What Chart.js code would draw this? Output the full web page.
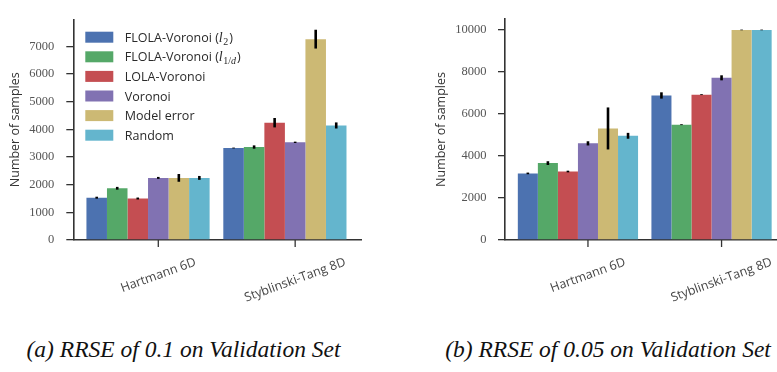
<!DOCTYPE html>
<html><head><meta charset="utf-8">
<script src="https://cdn.jsdelivr.net/npm/chart.js@4.4.1/dist/chart.umd.min.js"></script>
<style>
html,body{margin:0;padding:0;background:#fff;}
#wrap{position:relative;width:777px;height:372px;overflow:hidden;background:#fff;}
canvas{position:absolute;top:0;}
.cap{position:absolute;font-family:'Liberation Serif','Times New Roman',Times,serif;font-style:italic;font-size:23.5px;color:#111;text-align:center;white-space:nowrap;line-height:24px;}
</style></head><body>
<div id="wrap">
<canvas id="cA" width="390" height="320" style="left:0"></canvas>
<canvas id="cB" width="387" height="320" style="left:390px"></canvas>
<div class="cap" style="left:0;width:367px;top:337px">(a) RRSE of 0.1 on Validation Set</div>
<div class="cap" style="left:443px;width:330px;top:337px">(b) RRSE of 0.05 on Validation Set</div>
</div>
<script>
// ---------- data ----------
const categories = ['Hartmann 6D', 'Styblinski-Tang 8D'];
const seriesNames = ['FLOLA-Voronoi ($l_2$)', 'FLOLA-Voronoi ($l_{1/d}$)', 'LOLA-Voronoi', 'Voronoi', 'Model error', 'Random'];
const seriesColors = ['#4C72B0', '#55A868', '#C44E52', '#8172B2', '#CCB974', '#64B5CD'];

// (a) RRSE of 0.1 — mean number of samples, per category, in series order
const meansA_Hartmann   = [1530, 1870, 1500, 2245, 2245, 2245];
const meansA_Styblinski = [3325, 3360, 4240, 3530, 7260, 4140];
const errA_Hartmann     = [35, 50, 35, 35, 140, 70];
const errA_Styblinski   = [15, 60, 170, 25, 340, 110];

// (b) RRSE of 0.05
const meansB_Hartmann   = [3170, 3660, 3260, 4600, 5310, 4960];
const meansB_Styblinski = [6880, 5490, 6920, 7720, 10000, 10000];
const errB_Hartmann     = [40, 90, 40, 100, 1000, 140];
const errB_Styblinski   = [150, 20, 20, 120, 15, 15];

const yTicksA = [0, 1000, 2000, 3000, 4000, 5000, 6000, 7000];
const yTicksB = [0, 2000, 4000, 6000, 8000, 10000];

// ---------- helpers ----------
function plainName(n) {
  return n.replace(/\$l_\{?([^}$]*)\}?\$/g, 'l$1');
}
function buildDatasets(meansByCat, errsByCat) {
  return seriesNames.map((name, s) => ({
    label: plainName(name),
    data: categories.map((c, i) => ({ x: i, y: meansByCat[i][s] })),
    errors: categories.map((c, i) => errsByCat[i][s]),
    backgroundColor: seriesColors[s],
    borderWidth: 0
  }));
}

const errorBarPlugin = {
  id: 'errorBars',
  afterDatasetsDraw(chart) {
    const ctx = chart.ctx, ys = chart.scales.y;
    ctx.save();
    ctx.strokeStyle = '#000';
    ctx.lineWidth = 2.6;
    chart.data.datasets.forEach((ds, di) => {
      const meta = chart.getDatasetMeta(di);
      meta.data.forEach((el, i) => {
        const v = ds.data[i].y, e = ds.errors[i];
        ctx.beginPath();
        ctx.moveTo(el.x, ys.getPixelForValue(v - e));
        ctx.lineTo(el.x, ys.getPixelForValue(v + e));
        ctx.stroke();
      });
    });
    ctx.restore();
  }
};

const catAxisPlugin = {
  id: 'catAxis',
  afterDraw(chart) {
    const ctx = chart.ctx, area = chart.chartArea;
    const meta = chart.getDatasetMeta(3);
    const ang = 20 * Math.PI / 180;
    ctx.save();
    ctx.strokeStyle = '#333';
    ctx.lineWidth = 1.3;
    ctx.font = '12.5px "Open Sans"';
    ctx.fillStyle = '#444';
    categories.forEach((label, i) => {
      const x = meta.data[i].x;
      ctx.beginPath();
      ctx.moveTo(x, area.bottom);
      ctx.lineTo(x, area.bottom + 7);
      ctx.stroke();
      const w = ctx.measureText(label).width, h = 12.5;
      const bh = w * Math.sin(ang) + h * Math.cos(ang);
      const cy = area.bottom + 16 + bh / 2;
      ctx.save();
      ctx.translate(x, cy);
      ctx.rotate(-ang);
      ctx.textAlign = 'center';
      ctx.textBaseline = 'middle';
      ctx.fillText(label, 0, 0);
      ctx.restore();
    });
    ctx.restore();
  }
};

function drawRich(ctx, text, x, y) {
  const parts = text.split('$');
  parts.forEach((p, k) => {
    if (k % 2 === 0) {
      ctx.font = '12.5px "Open Sans"';
      ctx.fillText(p, x, y);
      x += ctx.measureText(p).width;
    } else {
      const m = p.match(/^(\w)_\{?([^}]*)\}?$/);
      const base = m ? m[1] : p, sub = m ? m[2] : '';
      ctx.font = 'italic 14px "Liberation Serif"';
      ctx.fillText(base, x, y);
      x += ctx.measureText(base).width + 0.5;
      for (const ch of sub) {
        ctx.font = (/[a-z]/.test(ch) ? 'italic ' : '') + '10px "Liberation Serif"';
        ctx.fillText(ch, x, y + 3);
        x += ctx.measureText(ch).width;
      }
      x += 1;
    }
  });
}

const legendPlugin = {
  id: 'mplLegend',
  afterDraw(chart) {
    const ctx = chart.ctx, area = chart.chartArea;
    ctx.save();
    ctx.textAlign = 'left';
    ctx.textBaseline = 'alphabetic';
    seriesNames.forEach((name, i) => {
      const cy = area.top + 17.7 + 19.6 * i;
      const bx = area.left + 12;
      ctx.fillStyle = seriesColors[i];
      ctx.fillRect(bx, cy - 5.5, 28, 11);
      ctx.fillStyle = '#2a2a2a';
      drawRich(ctx, name, bx + 39.5, cy + 4.5);
    });
    ctx.restore();
  }
};

function makeChart(id, datasets, cfg, extraPlugins) {
  return new Chart(document.getElementById(id), {
    type: 'bar',
    data: { datasets },
    options: {
      responsive: false,
      animation: false,
      devicePixelRatio: 1,
      events: [],
      layout: { padding: cfg.padding },
      datasets: { bar: { categoryPercentage: 0.9, barPercentage: 1.0 } },
      plugins: { legend: { display: false }, tooltip: { enabled: false } },
      scales: {
        x: {
          type: 'linear',
          min: -0.546,
          max: cfg.xMax,
          offset: false,
          afterBuildTicks: s => { s.ticks = categories.map((c, i) => ({ value: i })); },
          ticks: { display: false },
          grid: { display: false },
          border: { display: true, color: '#333', width: 1.6 },
          afterFit: s => { s.height = 80; }
        },
        y: {
          min: 0,
          max: cfg.yMax,
          afterBuildTicks: s => { s.ticks = cfg.yTicks.map(v => ({ value: v })); },
          ticks: {
            font: { family: 'Liberation Serif', size: 12.5 },
            color: '#555',
            padding: cfg.tickPad,
            callback: v => String(v)
          },
          grid: { display: true, drawOnChartArea: false, drawTicks: true, tickLength: 7, color: '#333', lineWidth: 1.3 },
          border: { display: true, color: '#333', width: 1.6 },
          title: {
            display: true,
            text: 'Number of samples',
            font: { family: 'Open Sans', size: 12.5 },
            color: '#333',
            padding: { top: cfg.titlePad, bottom: 0 }
          },
          afterFit: s => { s.width = cfg.yWidth; }
        }
      }
    },
    plugins: [errorBarPlugin, catAxisPlugin].concat(extraPlugins)
  });
}

makeChart('cA',
  buildDatasets([meansA_Hartmann, meansA_Styblinski], [errA_Hartmann, errA_Styblinski]),
  { padding: { top: 5, right: 29, left: 0, bottom: 0 }, xMax: 1.556, yMax: 7970, yTicks: yTicksA, yWidth: 73.3, tickPad: 12, titlePad: 7.5 },
  [legendPlugin]);

makeChart('cB',
  buildDatasets([meansB_Hartmann, meansB_Styblinski], [errB_Hartmann, errB_Styblinski]),
  { padding: { top: 5, right: 0, left: 0, bottom: 0 }, xMax: 1.49, yMax: 10520, yTicks: yTicksB, yWidth: 115, tickPad: 11.5, titlePad: 44.2 },
  []);
</script>
</body></html>
